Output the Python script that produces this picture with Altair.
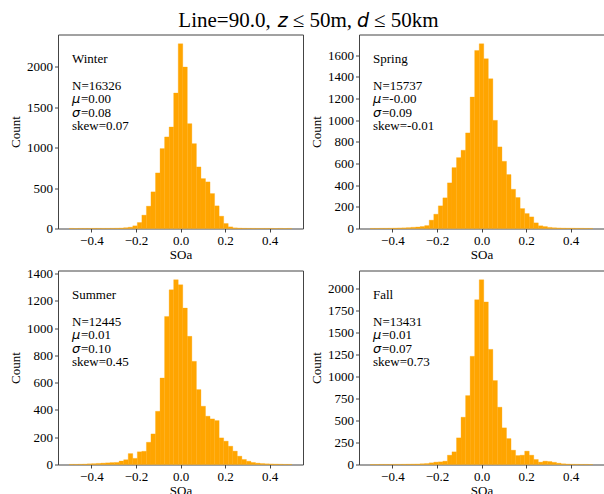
import altair as alt
import numpy as np
import pandas as pd

# ---------------- data ----------------
SEASONS = ["Winter", "Spring", "Summer", "Fall"]
N_VALUES = [16326, 15737, 12445, 13431]
MU_LABELS = ["0.00", "-0.00", "0.01", "0.01"]
SIGMA_LABELS = ["0.08", "0.09", "0.10", "0.07"]
SKEW_LABELS = ["0.07", "-0.01", "0.45", "0.73"]

# 49 equal bins between -0.5 and 0.5
BIN_LOW = -0.5
BIN_HIGH = 0.5
N_BINS = 49

WINTER_COUNTS = [1, 0, 1, 1, 1, 2, 2, 2, 2, 3, 4, 6, 10,
                 16, 33, 74, 165, 276, 453, 687, 988, 1132, 1255, 1675, 2284,
                 1996, 1296, 1049, 761, 617, 576, 432, 280, 152, 62, 20, 8,
                 5, 3, 2, 2, 1, 1, 1, 1, 0, 1, 0, 1]
SPRING_COUNTS = [1, 1, 2, 2, 3, 4, 5, 6, 8, 11, 14,
                 18, 27, 77, 132, 209, 283, 421, 562, 654, 722, 882, 1213, 1643,
                 1705, 1567, 1382, 998, 753, 620, 498, 362, 286, 184, 138, 107, 52,
                 25, 18, 10, 7, 5, 4, 3, 3, 2, 2, 1, 1]
SUMMER_COUNTS = [1, 1, 2, 3, 5, 6, 8, 10, 12, 14, 15, 25, 35,
                 80, 45, 93, 97,
                 163, 224, 390, 634, 1085, 1280, 1354, 1317, 1146, 939, 756, 549,
                 427, 354, 334, 322, 195, 171, 134, 98, 61, 37, 24,
                 15, 10, 7, 5, 4, 3, 2, 1, 1]
FALL_COUNTS = [0, 0, 1, 1, 1, 2, 2, 3, 4, 5, 6, 8, 11,
               19, 27, 30, 38, 106, 144, 303, 538, 784, 1231,
               1875, 2102, 1850, 1310, 955, 652, 417, 295, 163, 102, 106, 152,
               106, 57, 27, 38, 34, 25, 15, 8, 5,
               3, 2, 1, 1, 0]
COUNTS = [WINTER_COUNTS, SPRING_COUNTS, SUMMER_COUNTS, FALL_COUNTS]

X_TICKS = [-0.4, -0.2, 0.0, 0.2, 0.4]
Y_TICKS = [
    [0, 500, 1000, 1500, 2000],
    [0, 200, 400, 600, 800, 1000, 1200, 1400, 1600],
    [0, 200, 400, 600, 800, 1000, 1200, 1400],
    [0, 250, 500, 750, 1000, 1250, 1500, 1750, 2000],
]

TITLE_PARTS = ["Line=90.0,", "z", "\u2264 50m,", "d", "\u2264 50km"]
TITLE_ITALIC = [False, True, False, True, False]

# ---------------- styling ----------------
ORANGE = "#FFA500"
SERIF = "Liberation Serif"
MATH = "DejaVu Sans"
PW, PH = 245, 194

EDGES = np.linspace(BIN_LOW, BIN_HIGH, N_BINS + 1)


def panel(k, with_title=False):
    df = pd.DataFrame({"x0": EDGES[:-1], "x1": EDGES[1:], "count": COUNTS[k]})
    ymax = max(COUNTS[k]) * 1.05
    bars = alt.Chart(df).mark_rect(color=ORANGE, stroke=ORANGE, strokeWidth=0.3).encode(
        x=alt.X("x0:Q",
                scale=alt.Scale(domain=[-0.55, 0.55], nice=False, zero=False),
                axis=alt.Axis(values=X_TICKS, format=".1f", title="SOa")),
        x2="x1:Q",
        y=alt.Y("count:Q",
                scale=alt.Scale(domain=[0, ymax], nice=False),
                axis=alt.Axis(values=Y_TICKS[k], format="d", title="Count")),
        y2=alt.datum(0),
    )
    ann = pd.DataFrame({
        "season": [SEASONS[k]],
        "n": ["N=%d" % N_VALUES[k]],
        "mu_sym": ["\u03bc"],
        "mu": ["=" + MU_LABELS[k]],
        "sigma_sym": ["\u03c3"],
        "sigma": ["=" + SIGMA_LABELS[k]],
        "skew": ["skew=" + SKEW_LABELS[k]],
    })
    base = alt.Chart(ann)
    st = dict(align="left", baseline="alphabetic", font=SERIF, fontSize=13, color="black")
    mt = dict(align="left", baseline="alphabetic", font=MATH, fontSize=13,
              fontStyle="italic", color="black")
    layers = [
        bars,
        base.mark_text(**st).encode(x=alt.value(14), y=alt.value(28), text="season:N"),
        base.mark_text(**st).encode(x=alt.value(14), y=alt.value(55), text="n:N"),
        base.mark_text(**mt).encode(x=alt.value(14), y=alt.value(68.5), text="mu_sym:N"),
        base.mark_text(**st).encode(x=alt.value(23), y=alt.value(68.5), text="mu:N"),
        base.mark_text(**mt).encode(x=alt.value(14), y=alt.value(82), text="sigma_sym:N"),
        base.mark_text(**st).encode(x=alt.value(23), y=alt.value(82), text="sigma:N"),
        base.mark_text(**st).encode(x=alt.value(14), y=alt.value(95.5), text="skew:N"),
    ]
    if with_title:
        tdf = pd.DataFrame({"part": TITLE_PARTS})
        xs = [120.3, 219.7, 234.7, 299, 316]
        for i, part in enumerate(TITLE_PARTS):
            style = dict(align="left", baseline="alphabetic", fontSize=21, color="black")
            if TITLE_ITALIC[i]:
                style.update(font=MATH, fontStyle="italic", fontSize=19)
            else:
                style.update(font=SERIF)
            layers.append(
                alt.Chart(tdf.iloc[[i]]).mark_text(**style).encode(
                    x=alt.value(xs[i]), y=alt.value(-7.5), text="part:N"))
    return alt.layer(*layers).properties(width=PW, height=PH)


chart = alt.concat(
    panel(0, with_title=True), panel(1), panel(2), panel(3),
    columns=2, spacing={"row": 42, "column": 56}, bounds="flush",
).properties(
    autosize=alt.AutoSizeParams(type="none"),
    padding={"left": 58, "top": 34.5, "right": 546, "bottom": 459.5},
).configure_view(
    stroke="#444", strokeWidth=1,
).configure_axis(
    labelFont=SERIF, titleFont=SERIF, labelFontSize=13, titleFontSize=13,
    titleFontWeight="normal", labelColor="black", titleColor="black",
    tickColor="#444", tickSize=3.5, tickWidth=1, domain=False, grid=False,
    labelPadding=2,
).configure_axisY(
    titlePadding=4,
).configure_axisX(
    titlePadding=1,
)

chart.save("out.html", embed_options={"renderer": "svg", "actions": False})
